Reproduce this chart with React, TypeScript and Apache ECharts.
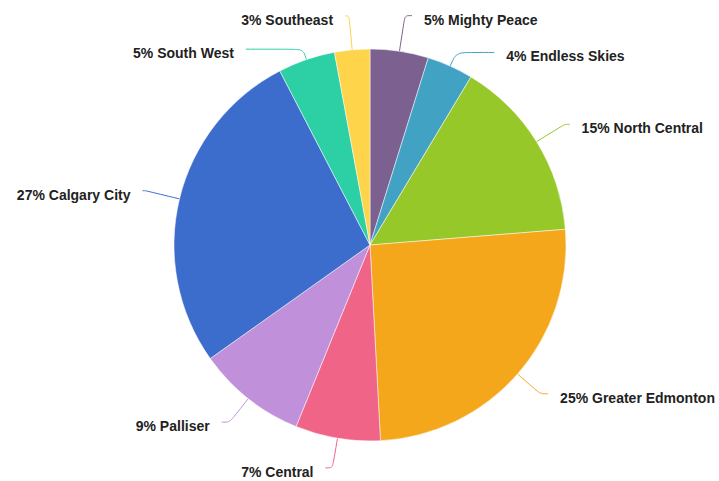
import React, { useEffect, useRef } from "react";
import * as echarts from "echarts";

const regions = ["Mighty Peace", "Endless Skies", "North Central", "Greater Edmonton", "Central", "Palliser", "Calgary City", "South West", "Southeast"];
const shares = [4.8, 3.8, 15.1, 25.4, 7.0, 9.0, 27.2, 4.7, 2.9];
const colors = ["#7b6090", "#41a2c4", "#97c82a", "#f5a71c", "#f06488", "#c090da", "#3d6dcc", "#2dcfa4", "#fdd44a"];
const lineLen = [36, 15, 33, 30, 30, 30, 35, 11, 34];
const lineLen2 = [7, 38, 5, 8, 7, 8, 3, 57, 4];

export default function App() {
  const ref = useRef<HTMLDivElement>(null);
  useEffect(() => {
    document.body.style.margin = "0";
    const chart = echarts.init(ref.current!, null, { renderer: "svg" });
    const font = {
      fontFamily: "'Liberation Sans', Arial, sans-serif",
      fontWeight: "bold",
      fontSize: 14,
      color: "#222",
    };
    chart.setOption({
      animation: false,
      series: [
        {
          type: "pie",
          center: [370, 245],
          radius: 196,
          startAngle: 90,
          clockwise: true,
          avoidLabelOverlap: false,
          itemStyle: { borderColor: "#fff", borderWidth: 0.5 },
          label: {
            formatter: (p: any) => "{t|" + Math.round(p.percent) + "% " + p.name + "}",
            ...font,
            overflow: "none",
            distanceToLabelLine: 12,
            rich: { t: { ...font, padding: [8, 0, 0, 0] } },
          },
          labelLine: { show: true, smooth: true, lineStyle: { width: 1 } },
          data: regions.map((n, i) => ({
            name: n,
            value: shares[i],
            itemStyle: { color: colors[i] },
            labelLine: { length: lineLen[i], length2: lineLen2[i] },
          })),
        },
      ],
    });
    return () => chart.dispose();
  }, []);
  return <div ref={ref} style={{ width: 719, height: 481 }} />;
}
